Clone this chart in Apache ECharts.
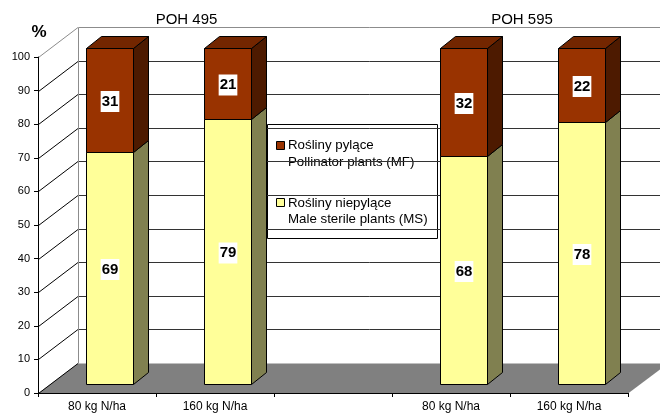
<!DOCTYPE html>
<html>
<head>
<meta charset="utf-8">
<script src="https://cdn.jsdelivr.net/npm/echarts@6/dist/echarts.min.js"></script>
<style>
  html, body { margin: 0; padding: 0; background: #fff; }
  #chart { width: 660px; height: 414px; }
</style>
</head>
<body>
<div id="chart"></div>
<script>
// ---- data ----
const categories = ['80 kg N/ha', '160 kg N/ha', '', '80 kg N/ha', '160 kg N/ha'];
const sterileMS = [69, 79, null, 68, 78];      // Male sterile plants (MS), %
const pollinatorMF = [31, 21, null, 32, 22];   // Pollinator plants (MF), %
const yTicks = [0, 10, 20, 30, 40, 50, 60, 70, 80, 90, 100];
const groupTitles = ['POH 495', 'POH 595'];
const legendMF = ['Rośliny pylące', 'Pollinator plants (MF)'];
const legendMS = ['Rośliny niepylące', 'Male sterile plants (MS)'];

// ---- styling ----
const COLORS = {
  mf: { front: '#993300', side: '#4d1a00', top: '#732600' },
  ms: { front: '#ffff99', side: '#808050', top: '#bfbf73' },
  floor: '#808080',
  grid: '#333333',
  wallEdge: '#8c8c8c'
};
const FONT = 'Arial, "Liberation Sans", sans-serif';

// oblique projection offsets (pixels) for the pseudo-3D look
const WALL = [40, -30];       // back wall relative to front plane
const BAR_FRONT = [12, -9];   // bar front faces relative to front plane
const BAR_DEPTH = [15, -12];  // bar thickness
const BAR_RATIO = 0.4;        // bar width as share of category band

const crisp = v => Math.round(v) + 0.5;

// stacked segments: [categoryIndex, lower, upper]
const msData = [];
const mfData = [];
categories.forEach((c, i) => {
  if (sterileMS[i] == null) return;
  msData.push([i, 0, sterileMS[i]]);
  mfData.push([i, sterileMS[i], sterileMS[i] + pollinatorMF[i]]);
});

function barRenderer(pal, withTop) {
  return function (params, api) {
    const i = api.value(0), lo = api.value(1), hi = api.value(2);
    const pLo = api.coord([i, lo]);
    const pHi = api.coord([i, hi]);
    const w = Math.round(api.size([1, 0])[0] * BAR_RATIO);
    const x0 = crisp(pLo[0] - w / 2 + BAR_FRONT[0]);
    const x1 = x0 + w;
    const yb = crisp(pLo[1] + BAR_FRONT[1]);
    const yt = crisp(pHi[1] + BAR_FRONT[1]);
    const dx = BAR_DEPTH[0], dy = BAR_DEPTH[1];
    const edge = { stroke: '#000', lineWidth: 1 };
    const children = [
      { type: 'polygon',
        shape: { points: [[x1, yb], [x1 + dx, yb + dy], [x1 + dx, yt + dy], [x1, yt]] },
        style: Object.assign({ fill: pal.side }, edge) },
      { type: 'rect',
        shape: { x: x0, y: yt, width: w, height: yb - yt },
        style: Object.assign({ fill: pal.front }, edge) }
    ];
    if (withTop) {
      children.push({ type: 'polygon',
        shape: { points: [[x0, yt], [x0 + dx, yt + dy], [x1 + dx, yt + dy], [x1, yt]] },
        style: Object.assign({ fill: pal.top }, edge) });
    }
    children.push({ type: 'text',
      style: {
        text: String(hi - lo),
        x: (x0 + x1) / 2, y: (yt + yb) / 2 + 1,
        align: 'center', verticalAlign: 'middle',
        font: 'bold 15px ' + FONT, fill: '#000',
        backgroundColor: '#fff', padding: [3, 1, 3, 1]
      } });
    return { type: 'group', children };
  };
}

// back wall, side gridlines and floor
function wallRenderer(params, api) {
  const v = api.value(1);
  const cs = params.coordSys;
  const left = cs.x, right = cs.x + cs.width;
  const y = crisp(api.coord([0, v])[1]);
  const y0 = crisp(api.coord([0, 0])[1]);
  const bx = crisp(left + WALL[0]);
  const children = [];
  if (v === 0) {
    children.push({ type: 'polygon',
      shape: { points: [[left, y0], [right, y0], [right + WALL[0], y0 + WALL[1]], [left + WALL[0], y0 + WALL[1]]] },
      style: { fill: COLORS.floor } });
  } else {
    children.push({ type: 'line',
      shape: { x1: bx, y1: y + WALL[1], x2: right + WALL[0] + 20, y2: y + WALL[1] },
      style: { stroke: v === 100 ? COLORS.wallEdge : COLORS.grid, lineWidth: 1 } });
  }
  if (v === 100) {
    children.push({ type: 'line',
      shape: { x1: bx, y1: y + WALL[1], x2: bx, y2: y0 + WALL[1] },
      style: { stroke: COLORS.wallEdge, lineWidth: 1 } });
  }
  children.push({ type: 'line',
    shape: { x1: crisp(left), y1: y, x2: left + WALL[0], y2: y + WALL[1] },
    style: { stroke: v === 100 ? COLORS.wallEdge : '#000', lineWidth: 1 } });
  return { type: 'group', children };
}

const chart = echarts.init(document.getElementById('chart'), null, { renderer: 'canvas' });

const legendX = 267.5, legendY = 124.5;
const legendText = (txt, x, y) => ({
  type: 'text', x, y,
  style: { text: txt, font: '13.3px ' + FONT, fill: '#000', verticalAlign: 'middle' }
});

chart.setOption({
  animation: false,
  backgroundColor: '#fff',
  grid: { left: 38, right: 32, top: 57, bottom: 21, containLabel: false },
  xAxis: {
    type: 'category',
    data: categories,
    boundaryGap: true,
    z: 5,
    axisLine: { lineStyle: { color: '#000', width: 1 } },
    axisTick: { show: true, alignWithLabel: false, length: 4, lineStyle: { color: '#000' } },
    axisLabel: { interval: 0, margin: 8, color: '#000', fontSize: 12, fontFamily: FONT },
    splitLine: { show: false }
  },
  yAxis: {
    type: 'value',
    min: 0, max: 100, interval: 10,
    z: 5,
    axisLine: { show: true, lineStyle: { color: '#000', width: 1 } },
    axisTick: { show: true, length: 4, lineStyle: { color: '#000' } },
    axisLabel: { margin: 8, color: '#000', fontSize: 11, fontFamily: FONT },
    splitLine: { show: false }
  },
  series: [
    {
      type: 'custom', name: 'wall', z: 1, clip: false, silent: true,
      renderItem: wallRenderer,
      encode: { x: 0, y: 1 },
      data: yTicks.map(v => [0, v])
    },
    {
      type: 'custom', name: 'MS', z: 3, clip: false,
      renderItem: barRenderer(COLORS.ms, false),
      encode: { x: 0, y: [1, 2] },
      data: msData
    },
    {
      type: 'custom', name: 'MF', z: 3, clip: false,
      renderItem: barRenderer(COLORS.mf, true),
      encode: { x: 0, y: [1, 2] },
      data: mfData
    }
  ],
  graphic: [
    { type: 'text', x: 186.5, y: 20, z: 10,
      style: { text: groupTitles[0], font: '15px ' + FONT, fill: '#000', align: 'center', verticalAlign: 'middle' } },
    { type: 'text', x: 522, y: 20, z: 10,
      style: { text: groupTitles[1], font: '15px ' + FONT, fill: '#000', align: 'center', verticalAlign: 'middle' } },
    { type: 'text', x: 39, y: 32, z: 10,
      style: { text: '%', font: 'bold 17px ' + FONT, fill: '#000', align: 'center', verticalAlign: 'middle' } },
    {
      type: 'group', z: 10,
      children: [
        { type: 'rect', shape: { x: legendX, y: legendY, width: 170, height: 114 },
          style: { fill: '#fff', stroke: '#000', lineWidth: 1 } },
        { type: 'rect', shape: { x: 276.5, y: 141.5, width: 8, height: 8 },
          style: { fill: COLORS.mf.front, stroke: '#000', lineWidth: 1 } },
        legendText(legendMF[0], 288, 145.5),
        legendText(legendMF[1], 288, 162.5),
        { type: 'rect', shape: { x: 276.5, y: 198.5, width: 8, height: 8 },
          style: { fill: COLORS.ms.front, stroke: '#000', lineWidth: 1 } },
        legendText(legendMS[0], 288, 203),
        legendText(legendMS[1], 288, 219.5)
      ]
    }
  ]
});
</script>
</body>
</html>
